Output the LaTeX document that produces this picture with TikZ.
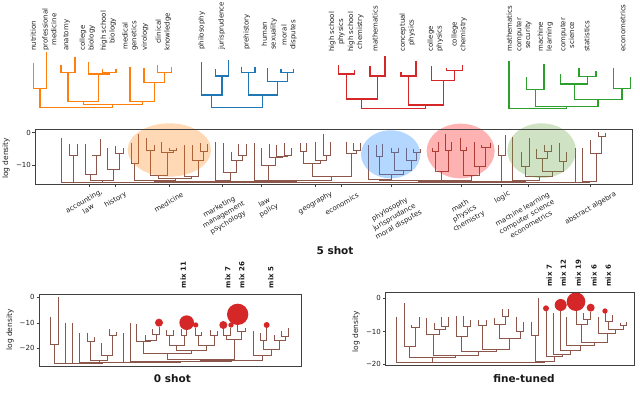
\documentclass[tikz,border=0pt]{standalone}
\usepackage{fontspec}
\setmainfont{DejaVu Sans}
\definecolor{tOrange}{HTML}{FF7F0E}
\definecolor{tBlue}{HTML}{1F77B4}
\definecolor{tRed}{HTML}{D62728}
\definecolor{tGreen}{HTML}{2CA02C}
\definecolor{tBrown}{HTML}{8C564B}
\definecolor{eBlue}{RGB}{40,140,255}
\definecolor{eGreen}{RGB}{100,160,60}
\newcommand{\dlink}[6][]{\draw[#1] (#2,#3) |- (#4,#6) -- (#4,#5);}
\begin{document}
\begin{tikzpicture}[x=0.333333pt,y=-0.333333pt,
 lab/.style={font=\fontsize{7}{8.8}\selectfont,inner sep=0pt,align=center,text=black!88},
 toplab/.style={lab,rotate=90,anchor=west},
 xlab/.style={lab,rotate=30,anchor=center},
 numlab/.style={lab,anchor=east},
 axlab/.style={font=\fontsize{7.5}{9}\selectfont,inner sep=0pt,rotate=90,text=black!88},
 mixlab/.style={font=\bfseries\fontsize{7}{8}\selectfont,inner sep=0pt,rotate=90,anchor=west,text=black!90},
 ttl/.style={font=\bfseries\fontsize{10.5}{12}\selectfont,inner sep=0pt,text=black!90},
 frame/.style={draw=black!75,line width=0.8pt},
 tickm/.style={draw=black!75,line width=0.6pt},
 bub/.style={fill=tRed,draw=none},
 toptree/.style={line width=1.1pt},
 midtree/.style={line width=0.9pt,color=tBrown},
]
\useasboundingbox (0,0) rectangle (1920,1209);

% ================= TOP DENDROGRAMS =================
\begin{scope}[toptree,color=tOrange]
 \dlink{100}{190}{140}{157}{265}
 \dlink{183}{195}{225}{172}{217}
 \dlink{308}{208}{348}{208}{217}
 \dlink{265}{187}{328}{217}{222}
 \dlink{204}{217}{296.5}{222}{305}
 \dlink{473}{195}{515}{200}{218}
 \dlink{432}{205}{494}{218}{248}
 \dlink{390}{200}{463}{248}{305}
 \dlink{250.25}{305}{426.5}{305}{313}
 \dlink{120}{265}{338.4}{313}{322}
\end{scope}
\begin{scope}[toptree,color=tBlue]
 \dlink{647}{207}{685}{180}{228}
 \dlink{605}{187}{666}{228}{285}
 \dlink{725}{200}{765}{200}{218}
 \dlink{843}{207}{880}{207}{217}
 \dlink{803}{205}{861.5}{217}{245}
 \dlink{745}{218}{832.25}{245}{285}
 \dlink{635.5}{285}{788.6}{285}{322}
\end{scope}
\begin{scope}[toptree,color=tRed]
 \dlink{1015}{195}{1063}{210}{222}
 \dlink{1110}{197}{1155}{168}{228}
 \dlink{1039}{222}{1132.5}{228}{297}
 \dlink{1203}{215}{1248}{183}{228}
 \dlink{1340}{205}{1388}{195}{212}
 \dlink{1295}{198}{1364}{212}{242}
 \dlink{1225.5}{228}{1329.5}{242}{315}
 \dlink{1085.75}{297}{1277.5}{315}{325}
\end{scope}
\begin{scope}[toptree,color=tGreen]
 \dlink{1580}{232}{1632}{193}{268}
 \dlink{1737}{203}{1788}{213}{230}
 \dlink{1682}{222}{1762.5}{230}{252}
 \dlink{1840}{203}{1892}{232}{265}
 \dlink{1722.25}{252}{1866}{265}{298}
 \dlink{1606}{268}{1794.1}{298}{320}
 \dlink{1527}{182}{1700}{320}{325}
\end{scope}

% top labels
\node[toplab] (a1) at (100,153) {nutrition};
\node[toplab] (a2) at (148,153) {professional\\medicine};
\node[toplab] (a3) at (200,153) {anatomy};
\node[toplab] (a4) at (262,153) {college\\biology};
\node[toplab] (a5) at (325,153) {high school\\biology};
\node[toplab] (a6) at (390,153) {medical\\genetics};
\node[toplab] (a7) at (435,153) {virology};
\node[toplab] (a8) at (490,153) {clinical\\knowledge};
\node[toplab] (b1) at (605,150) {philosophy};
\node[toplab] (b2) at (665,150) {jurisprudence};
\node[toplab] (b3) at (740,150) {prehistory};
\node[toplab] (b4) at (808,150) {human\\sexuality};
\node[toplab] (b5) at (867,150) {moral\\disputes};
\node[toplab] (c1) at (1010,156) {high school\\physics};
\node[toplab] (c2) at (1067,156) {high school\\chemistry};
\node[toplab] (c3) at (1125,156) {mathematics};
\node[toplab] (c4) at (1222,156) {conceptual\\physics};
\node[toplab] (c5) at (1306,156) {college\\physics};
\node[toplab] (c6) at (1377,156) {college\\chemistry};
\node[toplab] (d1) at (1528,156) {mathematics};
\node[toplab] (d2) at (1572,156) {computer\\security};
\node[toplab] (d3) at (1636,156) {machine\\learning};
\node[toplab] (d4) at (1702,156) {computer\\science};
\node[toplab] (d5) at (1760,156) {statistics};
\node[toplab] (d6) at (1868,156) {econometrics};

% ================= MIDDLE PANEL (5 shot) =================
\begin{scope}[shift={(0,285)}]
 \begin{scope}[midtree]
 % left
 \dlink{208}{148}{232}{148}{180}
 \dlink{278}{180}{300}{133}{182}
 \dlink{255}{148}{289}{182}{237}
 \dlink{345}{153}{370}{160}{175}
 \dlink{322}{160}{357.5}{175}{222}
 \dlink{393}{145}{415}{118}{205}
 % medicine
 \dlink{440}{130}{462}{150}{165}
 \dlink{508}{160}{530}{158}{165}
 \dlink{485}{140}{519}{165}{172}
 \dlink{451}{165}{502}{172}{240}
 \dlink{600}{145}{622}{148}{168}
 \dlink{578}{150}{611}{168}{195}
 \dlink{552}{150}{594.5}{195}{245}
 \dlink{476.5}{240}{573.25}{245}{250}
 \dlink{404}{205}{524.9}{250}{255}
 % marketing
 \dlink{715}{148}{738}{148}{182}
 \dlink{695}{170}{726.5}{182}{197}
 \dlink{670}{145}{710.75}{197}{232}
 \dlink{645}{140}{690.4}{232}{255}
 % law policy
 \dlink{852}{145}{875}{160}{180}
 \dlink{830}{150}{863.5}{180}{185}
 \dlink{808}{148}{846.75}{185}{188}
 \dlink{785}{160}{827.4}{188}{212}
 \dlink{762}{145}{806.2}{212}{255}
 % geography / economics
 \dlink{900}{145}{920}{145}{170}
 \dlink{970}{118}{990}{140}{180}
 \dlink{945}{140}{980}{180}{195}
 \dlink{910}{170}{962.5}{195}{205}
 \dlink{1060}{145}{1080}{145}{165}
 \dlink{1038}{140}{1070}{165}{175}
 \dlink{936.25}{205}{1054}{175}{245}
 % blue group
 \dlink{1128}{150}{1148}{147}{185}
 \dlink{1173}{158}{1195}{158}{172}
 \dlink{1240}{163}{1260}{163}{172}
 \dlink{1220}{160}{1250}{172}{195}
 \dlink{1184}{172}{1235}{195}{225}
 \dlink{1138}{185}{1209.5}{225}{238}
 \dlink{1105}{150}{1173.75}{238}{253}
 % red group
 \dlink{1298}{160}{1315}{140}{170}
 \dlink{1335}{118}{1355}{140}{165}
 \dlink{1306.5}{170}{1345}{165}{230}
 \dlink{1380}{128}{1400}{155}{165}
 \dlink{1445}{150}{1470}{143}{157}
 \dlink{1422}{140}{1457.5}{157}{215}
 \dlink{1390}{165}{1439.75}{215}{242}
 \dlink{1325.75}{230}{1414.9}{242}{255}
 % logic
 \dlink{1495}{150}{1515}{120}{180}
 % green group
 \dlink{1565}{172}{1588}{130}{215}
 \dlink{1632}{150}{1655}{150}{168}
 \dlink{1610}{162}{1643.5}{168}{190}
 \dlink{1678}{145}{1700}{172}{200}
 \dlink{1626.75}{190}{1689}{200}{228}
 \dlink{1576.5}{215}{1657.9}{228}{245}
 \dlink{1538}{125}{1617.2}{245}{255}
 % abstract algebra
 \dlink{1795}{112}{1815}{115}{125}
 \dlink{1772}{135}{1805}{125}{175}
 % baseline joins
 \dlink{185}{130}{220}{180}{262}
 \dlink{272}{237}{339.75}{222}{257}
 \dlink{202.5}{262}{305.9}{257}{262}
 \dlink{464.4}{255}{667.7}{255}{258}
 \dlink{784.1}{255}{995}{245}{257}
 \dlink{566}{258}{889.5}{257}{260}
 \dlink{254.2}{262}{727.8}{260}{262}
 \dlink{1139.4}{253}{1370.3}{255}{257}
 \dlink{1505}{180}{1577.6}{255}{258}
 \dlink{1254.9}{257}{1541.3}{258}{260}
 \dlink{1748}{158}{1788.5}{175}{260}
 \dlink{1725}{160}{1768.25}{260}{262}
 \dlink{1398.1}{260}{1746.6}{262}{262}
 \dlink{491}{262}{1572}{262}{262}
 \end{scope}
 % highlight ellipses
 \fill[tOrange,opacity=0.3] (508,165) ellipse [x radius=125, y radius=80];
 \fill[eBlue,opacity=0.35] (1172,178) ellipse [x radius=89, y radius=72];
 \fill[red,opacity=0.3] (1382,168) ellipse [x radius=102, y radius=82];
 \fill[eGreen,opacity=0.3] (1625,167) ellipse [x radius=103, y radius=82];
 % frame and ticks
 \draw[frame] (105,103) rectangle (1898,268);
 \draw[tickm] (97,113) -- (105,113);
 \draw[tickm] (97,210) -- (105,210);
 \foreach \t in {267,347,507,667,785,945,1025,1173,1385,1505,1585,1770}
   \draw[tickm] (\t,268) -- (\t,276);
 \node[numlab] (m0) at (93,113) {0};
 \node[numlab] (m10) at (93,210) {−10};
\end{scope}
\node[axlab] (mylab) at (18,475) {log density};
\node[xlab] (x1) at (258,615) {accounting,\\law};
\node[xlab] (x2) at (347,600) {history};
\node[xlab] (x3) at (506,607) {medicine};
\node[xlab] (x4) at (671,645) {marketing\\management\\psychology};
\node[xlab] (x5) at (800,620) {law\\policy};
\node[xlab] (x6) at (946,609) {geography};
\node[xlab] (x7) at (1025,612) {economics};
\node[xlab] (x8) at (1183,652) {phylosophy\\jurisprudance\\moral disputes};
\node[xlab] (x9) at (1394,642) {math\\physics\\chemistry};
\node[xlab] (x10) at (1507,592) {logic};
\node[xlab] (x11) at (1580,650) {machine learning\\computer science\\econometrics};
\node[xlab] (x12) at (1772,625) {abstract algebra};
\node[ttl] (t5) at (1005,752) {5 shot};

% ================= BOTTOM LEFT (0 shot) =================
\begin{scope}[shift={(0,765)}]
 \begin{scope}[midtree]
 \dlink{152}{185}{175}{125}{268}
 \dlink{262}{233}{283}{245}{260}
 \dlink{328}{223}{348}{230}{240}
 \dlink{305}{265}{338}{240}{300}
 \dlink{272.5}{260}{321.5}{300}{315}
 \dlink{458}{222}{478}{215}{238}
 \dlink{435}{240}{468}{238}{255}
 \dlink{410}{207}{451.5}{255}{260}
 \dlink{498}{225}{520}{225}{240}
 \dlink{545}{222}{560}{212}{240}
 \dlink{509}{240}{552.5}{240}{270}
 \dlink{585}{220}{605}{230}{240}
 \dlink{632}{225}{652}{228}{240}
 \dlink{595}{240}{642}{240}{270}
 \dlink{530.75}{270}{618.5}{270}{285}
 \dlink{430.75}{260}{574.6}{285}{295}
 \dlink{670}{213}{690}{218}{242}
 \dlink{713}{205}{735}{218}{230}
 \dlink{680}{242}{724}{230}{252}
 \dlink{502.7}{295}{702}{252}{312}
 \dlink{780}{235}{800}{215}{255}
 \dlink{845}{228}{865}{220}{245}
 \dlink{822}{240}{855}{245}{255}
 \dlink{790}{255}{838.5}{255}{283}
 \dlink{760}{228}{814.25}{283}{300}
 \dlink{602.35}{312}{787.1}{300}{315}
 \dlink{390}{205}{694.7}{315}{318}
 \dlink{370}{235}{542.4}{318}{321}
 \dlink{297}{315}{456.2}{321}{322}
 \dlink{238}{235}{376.6}{322}{323}
 \dlink{218}{203}{307.3}{323}{324}
 \dlink{195}{203}{262.7}{324}{325}
 \dlink{163.5}{268}{228.8}{325}{325}
 \end{scope}
 \fill[bub] (477,203) circle [radius=12];
 \fill[bub] (560,203) circle [radius=22];
 \fill[bub] (587,210) circle [radius=8];
 \fill[bub] (670,210) circle [radius=12];
 \fill[bub] (693,210) circle [radius=8];
 \fill[bub] (713,178) circle [radius=32];
 \fill[bub] (800,210) circle [radius=9];
 \draw[frame] (118,118) rectangle (905,333);
 \foreach \t in {127,204,279} \draw[tickm] (110,\t) -- (118,\t);
 \node[numlab] (l0) at (104,127) {0};
 \node[numlab] (l10) at (104,204) {−10};
 \node[numlab] (l20) at (104,279) {−20};
 \node[axlab] (llab) at (30,225) {log density};
 \node[mixlab] (lm1) at (550,100) {mix 11};
 \node[mixlab] (lm2) at (683,100) {mix 7};
 \node[mixlab] (lm3) at (725,100) {mix 26};
 \node[mixlab] (lm4) at (812,100) {mix 5};
 \node[ttl] (t0) at (517,372) {0 shot};
\end{scope}

% ================= BOTTOM RIGHT (fine-tuned) =================
\begin{scope}[shift={(960,765)}]
 \begin{scope}[midtree]
 \dlink{275}{210}{298}{185}{218}
 \dlink{252}{145}{286.5}{218}{275}
 \dlink{365}{185}{385}{185}{215}
 \dlink{342}{205}{375}{215}{222}
 \dlink{320}{190}{358.5}{222}{238}
 \dlink{430}{182}{452}{195}{213}
 \dlink{408}{182}{441}{213}{245}
 \dlink{475}{195}{498}{195}{212}
 \dlink{548}{162}{565}{162}{185}
 \dlink{522}{190}{556.5}{185}{208}
 \dlink{590}{185}{610}{200}{230}
 \dlink{539.25}{208}{600}{230}{250}
 \dlink{486.5}{212}{569.6}{250}{283}
 \dlink{424.5}{245}{528}{283}{290}
 \dlink{339.25}{238}{476.25}{290}{300}
 \dlink{269.25}{275}{407.75}{300}{307}
 \dlink{230}{185}{338.5}{307}{322}
 \dlink{635}{200}{655}{130}{242}
 \dlink{790}{175}{812}{170}{192}
 \dlink{768}{165}{801}{192}{208}
 \dlink{855}{175}{878}{180}{198}
 \dlink{900}{205}{918}{200}{212}
 \dlink{866.5}{198}{909}{212}{222}
 \dlink{835}{185}{887.75}{222}{235}
 \dlink{784.5}{208}{861.4}{235}{262}
 \dlink{740}{185}{822.95}{262}{272}
 \dlink{722}{168}{781.5}{272}{285}
 \dlink{700}{175}{751.75}{285}{297}
 \dlink{678}{168}{725.9}{297}{305}
 \dlink{645}{242}{702}{305}{318}
 \dlink{284.25}{322}{673.5}{318}{322}
 \end{scope}
 \fill[bub] (678,160) circle [radius=9];
 \fill[bub] (722,150) circle [radius=18];
 \fill[bub] (768,140) circle [radius=28];
 \fill[bub] (812,158) circle [radius=12];
 \fill[bub] (855,168) circle [radius=8];
 \draw[frame] (197,112) rectangle (943,330);
 \foreach \t in {130,230,327} \draw[tickm] (189,\t) -- (197,\t);
 \node[numlab] (r0) at (183,130) {0};
 \node[numlab] (r10) at (183,230) {−10};
 \node[numlab] (r20) at (183,327) {−20};
 \node[axlab] (rlab) at (108,230) {log density};
 \node[mixlab] (rm1) at (688,95) {mix 7};
 \node[mixlab] (rm2) at (730,95) {mix 12};
 \node[mixlab] (rm3) at (775,95) {mix 19};
 \node[mixlab] (rm4) at (822,95) {mix 6};
 \node[mixlab] (rm5) at (865,95) {mix 6};
 \node[ttl] (tf) at (612,372) {fine-tuned};
\end{scope}
\end{tikzpicture}
\end{document}
